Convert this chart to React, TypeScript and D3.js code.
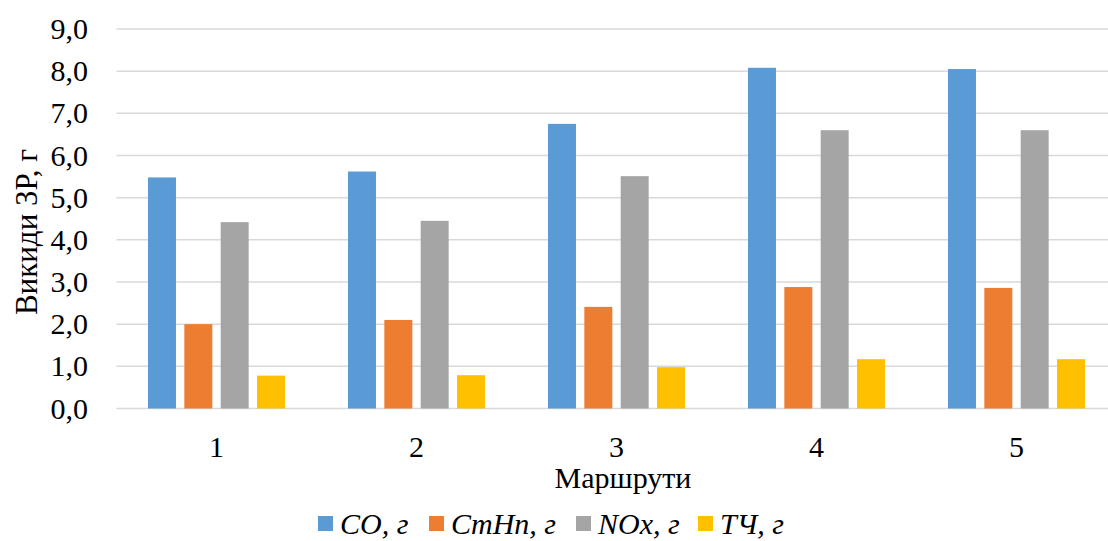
import React from "react";
import * as d3 from "d3";

// Routes and emissions (g) per pollutant
const routes = ["1", "2", "3", "4", "5"];
const seriesNames = ["CO, г", "CmHn, г", "NOx, г", "ТЧ, г"];
const coValues = [5.48, 5.62, 6.75, 8.08, 8.05];
const cmhnValues = [2.0, 2.1, 2.41, 2.88, 2.86];
const noxValues = [4.42, 4.45, 5.51, 6.6, 6.6];
const pmValues = [0.78, 0.79, 0.98, 1.17, 1.17];
const yTicks = [0, 1, 2, 3, 4, 5, 6, 7, 8, 9];
const colors = ["#5B9BD5", "#ED7D31", "#A5A5A5", "#FFC000"];

const allSeries = [coValues, cmhnValues, noxValues, pmValues];

const W = 1108;
const H = 541;
const FONT = '"Liberation Serif", "DejaVu Serif", "Noto Serif", Tinos, Times, serif';
const txt = { fontFamily: FONT };

export default function App() {
  const plotLeft = 116.5;
  const plotRight = 1116.5;
  const y0 = 408.5;
  const y9 = 29;

  const x = d3.scaleBand<string>().domain(routes).range([plotLeft, plotRight]).paddingInner(0).paddingOuter(0);
  const y = d3.scaleLinear().domain([0, 9]).range([y0, y9]);
  // Inner band for the four bars in each group
  const inner = d3
    .scaleBand<number>()
    .domain([0, 1, 2, 3])
    .range([31.5, x.bandwidth() - 31.5])
    .paddingInner(0.23)
    .paddingOuter(0);

  const fmt = (v: number) => v.toFixed(1).replace(".", ",");

  const legendX = [318, 429, 576, 698];

  return (
    <div style={{ position: "absolute", left: 0, top: 0, fontFamily: FONT }}>
      <svg width={W} height={H} style={{ display: "block", background: "#fff" }}>
        <rect x={0} y={0} width={W} height={H} fill="#fff" />
        {/* gridlines */}
        {yTicks.map((t) => (
          <line
            key={"g" + t}
            x1={plotLeft}
            x2={W}
            y1={y(t)}
            y2={y(t)}
            stroke="#d9d9d9"
            strokeWidth={1.5}
          />
        ))}
        {/* y tick labels */}
        {yTicks.map((t) => (
          <text
            key={"t" + t}
            x={88}
            y={y(t) + 10}
            textAnchor="end"
            fontSize={30}
            fill="#000"
            style={txt}
          >
            {fmt(t)}
          </text>
        ))}
        {/* bars */}
        {routes.map((r, i) => (
          <g key={r} transform={`translate(${x(r)},0)`}>
            {allSeries.map((s, k) => (
              <rect
                key={k}
                x={inner(k)}
                y={y(s[i])}
                width={inner.bandwidth()}
                height={y(0) - y(s[i])}
                fill={colors[k]}
              />
            ))}
          </g>
        ))}
        {/* category labels */}
        {routes.map((r) => (
          <text
            key={"c" + r}
            x={(x(r) as number) + x.bandwidth() / 2}
            y={457}
            textAnchor="middle"
            fontSize={30}
            fill="#000"
            style={txt}
          >
            {r}
          </text>
        ))}
        {/* axis titles */}
        <text x={623} y={488} textAnchor="middle" fontSize={30} fill="#000" style={txt}>
          Маршрути
        </text>
        <text
          transform="translate(37,232) rotate(-90)"
          textAnchor="middle"
          fontSize={31}
          fill="#000"
          style={txt}
        >
          Викиди ЗР, г
        </text>
        {/* legend */}
        {seriesNames.map((n, k) => (
          <g key={"l" + k}>
            <rect x={legendX[k]} y={516} width={15} height={15} fill={colors[k]} />
            <text
              x={legendX[k] + 22}
              y={534}
              fontSize={30}
              fontStyle="italic"
              fill="#000"
              style={txt}
            >
              {n}
            </text>
          </g>
        ))}
      </svg>
    </div>
  );
}
